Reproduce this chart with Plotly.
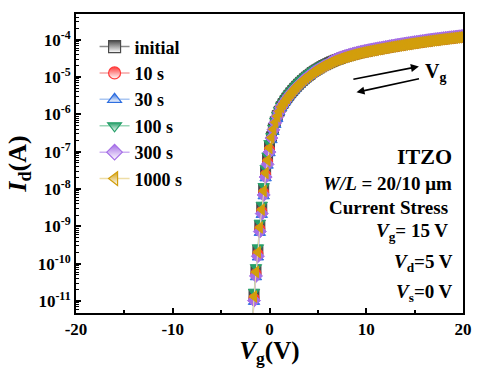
import plotly.graph_objects as go

# ---------------- data ----------------
Vg = [-2.0, -1.8, -1.6, -1.4, -1.2, -1.0, -0.8, -0.6, -0.4, -0.2,
      0.0, 0.2, 0.4, 0.6, 0.8, 1.0, 1.2, 1.4, 1.6, 1.8,
      2.0, 2.2, 2.4, 2.6, 2.8, 3.0, 3.2, 3.4, 3.6, 3.8,
      4.0, 4.2, 4.4, 4.6, 4.8, 5.0, 5.2, 5.4, 5.6, 5.8,
      6.0, 6.2, 6.4, 6.6, 6.8, 7.0, 7.2, 7.4, 7.6, 7.8,
      8.0, 8.2, 8.4, 8.6, 8.8, 9.0, 9.2, 9.4, 9.6, 9.8,
      10.0, 10.2, 10.4, 10.6, 10.8, 11.0, 11.2, 11.4, 11.6, 11.8,
      12.0, 12.2, 12.4, 12.6, 12.8, 13.0, 13.2, 13.4, 13.6, 13.8,
      14.0, 14.2, 14.4, 14.6, 14.8, 15.0, 15.2, 15.4, 15.6, 15.8,
      16.0, 16.2, 16.4, 16.6, 16.8, 17.0, 17.2, 17.4, 17.6, 17.8,
      18.0, 18.2, 18.4, 18.6, 18.8, 19.0, 19.2, 19.4, 19.6, 19.8,
      20.0]

Id_initial = [2.8e-13, 1.4e-12, 1.45e-11, 6.6e-11, 2.24e-10, 1.03e-9, 3.1e-9, 9.8e-9, 2.96e-8, 6.5e-8,
              1.39e-7, 2.52e-7, 4.18e-7, 6.48e-7, 9.36e-7, 1.22e-6, 1.61e-6, 1.95e-6, 2.34e-6, 2.77e-6,
              3.26e-6, 3.79e-6, 4.36e-6, 5.00e-6, 5.67e-6, 6.44e-6, 7.22e-6, 8.10e-6, 8.99e-6, 9.97e-6,
              1.09e-5, 1.19e-5, 1.32e-5, 1.43e-5, 1.54e-5, 1.65e-5, 1.77e-5, 1.90e-5, 2.04e-5, 2.15e-5,
              2.28e-5, 2.42e-5, 2.56e-5, 2.69e-5, 2.83e-5, 2.96e-5, 3.09e-5, 3.22e-5, 3.36e-5, 3.49e-5,
              3.62e-5, 3.74e-5, 3.88e-5, 4.01e-5, 4.14e-5, 4.26e-5, 4.40e-5, 4.53e-5, 4.65e-5, 4.77e-5,
              4.89e-5, 5.01e-5, 5.12e-5, 5.24e-5, 5.37e-5, 5.49e-5, 5.62e-5, 5.74e-5, 5.87e-5, 6.01e-5,
              6.13e-5, 6.26e-5, 6.41e-5, 6.54e-5, 6.68e-5, 6.81e-5, 6.96e-5, 7.09e-5, 7.24e-5, 7.37e-5,
              7.53e-5, 7.67e-5, 7.81e-5, 7.98e-5, 8.12e-5, 8.27e-5, 8.42e-5, 8.57e-5, 8.72e-5, 8.87e-5,
              9.03e-5, 9.18e-5, 9.33e-5, 9.50e-5, 9.65e-5, 9.81e-5, 9.96e-5, 1.012e-4, 1.027e-4, 1.043e-4,
              1.059e-4, 1.074e-4, 1.090e-4, 1.106e-4, 1.121e-4, 1.136e-4, 1.153e-4, 1.169e-4, 1.183e-4, 1.199e-4,
              1.214e-4]

Id_10s = [2.3e-13, 1.2e-12, 1.21e-11, 5.55e-11, 1.88e-10, 8.6e-10, 2.59e-9, 8.2e-9, 2.47e-8, 5.42e-8,
          1.16e-7, 2.36e-7, 3.93e-7, 6.10e-7, 8.82e-7, 1.19e-6, 1.56e-6, 1.89e-6, 2.27e-6, 2.69e-6,
          3.17e-6, 3.68e-6, 4.23e-6, 4.85e-6, 5.50e-6, 6.25e-6, 7.01e-6, 7.86e-6, 8.72e-6, 9.67e-6,
          1.06e-5, 1.16e-5, 1.28e-5, 1.39e-5, 1.49e-5, 1.60e-5, 1.72e-5, 1.84e-5, 1.98e-5, 2.09e-5,
          2.22e-5, 2.35e-5, 2.48e-5, 2.61e-5, 2.74e-5, 2.87e-5, 3.00e-5, 3.13e-5, 3.26e-5, 3.39e-5,
          3.51e-5, 3.63e-5, 3.76e-5, 3.89e-5, 4.02e-5, 4.14e-5, 4.27e-5, 4.40e-5, 4.51e-5, 4.63e-5,
          4.74e-5, 4.86e-5, 4.97e-5, 5.09e-5, 5.21e-5, 5.33e-5, 5.45e-5, 5.57e-5, 5.69e-5, 5.83e-5,
          5.95e-5, 6.08e-5, 6.22e-5, 6.35e-5, 6.48e-5, 6.61e-5, 6.75e-5, 6.88e-5, 7.03e-5, 7.16e-5,
          7.31e-5, 7.44e-5, 7.58e-5, 7.74e-5, 7.88e-5, 8.03e-5, 8.17e-5, 8.32e-5, 8.46e-5, 8.61e-5,
          8.76e-5, 8.91e-5, 9.06e-5, 9.22e-5, 9.37e-5, 9.52e-5, 9.66e-5, 9.82e-5, 9.97e-5, 1.013e-4,
          1.028e-4, 1.043e-4, 1.058e-4, 1.073e-4, 1.088e-4, 1.103e-4, 1.119e-4, 1.135e-4, 1.148e-4, 1.163e-4,
          1.178e-4]

Id_30s = [1.8e-13, 9.4e-13, 9.5e-12, 4.34e-11, 1.47e-10, 6.7e-10, 2.03e-9, 6.4e-9, 1.94e-8, 4.24e-8,
          9.1e-8, 2.04e-7, 3.38e-7, 5.24e-7, 7.57e-7, 1.14e-6, 1.50e-6, 1.81e-6, 2.18e-6, 2.58e-6,
          3.04e-6, 3.53e-6, 4.06e-6, 4.66e-6, 5.28e-6, 6.00e-6, 6.73e-6, 7.54e-6, 8.37e-6, 9.28e-6,
          1.02e-5, 1.11e-5, 1.23e-5, 1.33e-5, 1.43e-5, 1.54e-5, 1.65e-5, 1.77e-5, 1.90e-5, 2.00e-5,
          2.13e-5, 2.25e-5, 2.38e-5, 2.51e-5, 2.63e-5, 2.76e-5, 2.88e-5, 3.00e-5, 3.13e-5, 3.25e-5,
          3.37e-5, 3.49e-5, 3.61e-5, 3.73e-5, 3.86e-5, 3.97e-5, 4.09e-5, 4.22e-5, 4.33e-5, 4.45e-5,
          4.60e-5, 4.71e-5, 4.82e-5, 4.93e-5, 5.05e-5, 5.16e-5, 5.29e-5, 5.40e-5, 5.52e-5, 5.65e-5,
          5.77e-5, 5.89e-5, 6.03e-5, 6.15e-5, 6.29e-5, 6.41e-5, 6.55e-5, 6.67e-5, 6.82e-5, 6.94e-5,
          7.08e-5, 7.22e-5, 7.35e-5, 7.51e-5, 7.64e-5, 7.79e-5, 7.92e-5, 8.06e-5, 8.21e-5, 8.35e-5,
          8.50e-5, 8.64e-5, 8.78e-5, 8.94e-5, 9.08e-5, 9.24e-5, 9.37e-5, 9.52e-5, 9.67e-5, 9.82e-5,
          9.96e-5, 1.011e-4, 1.026e-4, 1.041e-4, 1.055e-4, 1.069e-4, 1.085e-4, 1.100e-4, 1.114e-4, 1.128e-4,
          1.142e-4]

Id_100s = [3.4e-13, 1.75e-12, 1.78e-11, 8.1e-11, 2.75e-10, 1.26e-9, 3.81e-9, 1.20e-8, 3.63e-8, 7.95e-8,
           1.70e-7, 2.62e-7, 4.34e-7, 6.73e-7, 9.71e-7, 1.31e-6, 1.72e-6, 2.08e-6, 2.50e-6, 2.96e-6,
           3.49e-6, 4.05e-6, 4.65e-6, 5.34e-6, 6.06e-6, 6.88e-6, 7.72e-6, 8.65e-6, 9.60e-6, 1.065e-5,
           1.17e-5, 1.28e-5, 1.41e-5, 1.53e-5, 1.65e-5, 1.77e-5, 1.90e-5, 2.03e-5, 2.18e-5, 2.30e-5,
           2.44e-5, 2.46e-5, 2.61e-5, 2.75e-5, 2.88e-5, 3.02e-5, 3.15e-5, 3.29e-5, 3.42e-5, 3.56e-5,
           3.69e-5, 3.82e-5, 3.95e-5, 4.09e-5, 4.22e-5, 4.35e-5, 4.48e-5, 4.62e-5, 4.74e-5, 4.87e-5,
           4.98e-5, 5.11e-5, 5.22e-5, 5.35e-5, 5.47e-5, 5.60e-5, 5.73e-5, 5.86e-5, 5.98e-5, 6.13e-5,
           6.25e-5, 6.39e-5, 6.53e-5, 6.67e-5, 6.81e-5, 6.95e-5, 7.09e-5, 7.23e-5, 7.38e-5, 7.52e-5,
           7.68e-5, 7.82e-5, 7.97e-5, 8.13e-5, 8.28e-5, 8.43e-5, 8.58e-5, 8.74e-5, 8.89e-5, 9.05e-5,
           9.20e-5, 9.36e-5, 9.52e-5, 9.68e-5, 9.84e-5, 1.000e-4, 1.015e-4, 1.032e-4, 1.047e-4, 1.064e-4,
           1.080e-4, 1.095e-4, 1.112e-4, 1.127e-4, 1.143e-4, 1.159e-4, 1.175e-4, 1.192e-4, 1.206e-4, 1.222e-4,
           1.238e-4]

Id_300s = [2.0e-13, 1.0e-12, 1.03e-11, 4.7e-11, 1.59e-10, 7.3e-10, 2.20e-9, 6.95e-9, 2.10e-8, 4.59e-8,
           9.8e-8, 2.33e-7, 3.86e-7, 5.98e-7, 8.64e-7, 1.16e-6, 1.53e-6, 1.85e-6, 2.22e-6, 2.64e-6,
           3.10e-6, 3.61e-6, 4.14e-6, 4.75e-6, 5.39e-6, 6.12e-6, 6.87e-6, 7.70e-6, 8.55e-6, 9.48e-6,
           1.04e-5, 1.13e-5, 1.25e-5, 1.36e-5, 1.46e-5, 1.57e-5, 1.69e-5, 1.80e-5, 1.94e-5, 2.05e-5,
           2.17e-5, 2.37e-5, 2.56e-5, 2.75e-5, 2.94e-5, 3.10e-5, 3.24e-5, 3.38e-5, 3.52e-5, 3.66e-5,
           3.80e-5, 3.93e-5, 4.07e-5, 4.21e-5, 4.34e-5, 4.47e-5, 4.61e-5, 4.75e-5, 4.88e-5, 5.01e-5,
           5.13e-5, 5.25e-5, 5.37e-5, 5.50e-5, 5.63e-5, 5.76e-5, 5.90e-5, 6.02e-5, 6.15e-5, 6.30e-5,
           6.43e-5, 6.57e-5, 6.72e-5, 6.86e-5, 7.01e-5, 7.15e-5, 7.30e-5, 7.44e-5, 7.60e-5, 7.74e-5,
           7.90e-5, 8.05e-5, 8.20e-5, 8.37e-5, 8.52e-5, 8.68e-5, 8.83e-5, 8.99e-5, 9.15e-5, 9.31e-5,
           9.47e-5, 9.63e-5, 9.79e-5, 9.96e-5, 1.012e-4, 1.029e-4, 1.044e-4, 1.061e-4, 1.077e-4, 1.095e-4,
           1.111e-4, 1.127e-4, 1.144e-4, 1.160e-4, 1.176e-4, 1.192e-4, 1.209e-4, 1.226e-4, 1.241e-4, 1.257e-4,
           1.273e-4]

Id_1000s = [2.5e-13, 1.3e-12, 1.32e-11, 6.03e-11, 2.04e-10, 9.33e-10, 2.82e-9, 8.91e-9, 2.69e-8, 5.89e-8,
            1.26e-7, 2.40e-7, 3.98e-7, 6.17e-7, 8.91e-7, 1.20e-6, 1.58e-6, 1.91e-6, 2.29e-6, 2.72e-6,
            3.20e-6, 3.72e-6, 4.27e-6, 4.90e-6, 5.56e-6, 6.31e-6, 7.08e-6, 7.94e-6, 8.81e-6, 9.77e-6,
            1.07e-5, 1.17e-5, 1.29e-5, 1.40e-5, 1.51e-5, 1.62e-5, 1.74e-5, 1.86e-5, 2.00e-5, 2.11e-5,
            2.24e-5, 2.37e-5, 2.51e-5, 2.64e-5, 2.77e-5, 2.90e-5, 3.03e-5, 3.16e-5, 3.29e-5, 3.42e-5,
            3.55e-5, 3.67e-5, 3.80e-5, 3.93e-5, 4.06e-5, 4.18e-5, 4.31e-5, 4.44e-5, 4.56e-5, 4.68e-5,
            4.79e-5, 4.91e-5, 5.02e-5, 5.14e-5, 5.26e-5, 5.38e-5, 5.51e-5, 5.63e-5, 5.75e-5, 5.89e-5,
            6.01e-5, 6.14e-5, 6.28e-5, 6.41e-5, 6.55e-5, 6.68e-5, 6.82e-5, 6.95e-5, 7.10e-5, 7.23e-5,
            7.38e-5, 7.52e-5, 7.66e-5, 7.82e-5, 7.96e-5, 8.11e-5, 8.25e-5, 8.40e-5, 8.55e-5, 8.70e-5,
            8.85e-5, 9.00e-5, 9.15e-5, 9.31e-5, 9.46e-5, 9.62e-5, 9.76e-5, 9.92e-5, 1.007e-4, 1.023e-4,
            1.038e-4, 1.053e-4, 1.069e-4, 1.084e-4, 1.099e-4, 1.114e-4, 1.130e-4, 1.146e-4, 1.160e-4, 1.175e-4,
            1.190e-4]

series_names = ["initial", "10 s", "30 s", "100 s", "300 s", "1000 s"]
series_values = [Id_initial, Id_10s, Id_30s, Id_100s, Id_300s, Id_1000s]
marker_symbols = ["square", "circle", "triangle-up", "triangle-down", "diamond", "triangle-left"]
marker_colors = ["#4A4A4A", "#FF3B3B", "#2F6FE0", "#27A06A", "#A56EE6", "#D29E0C"]
line_colors = ["#8A8A8A", "#F6A3A3", "#A9C6F2", "#9AD6B7", "#CDB0F2", "#EEDDA6"]

x_tickvals = [-20, -10, 0, 10, 20]
x_ticktext = ["-20", "-10", "0", "10", "20"]
x_minor = [-15, -5, 5, 15]
y_tickvals = [1e-11, 1e-10, 1e-9, 1e-8, 1e-7, 1e-6, 1e-5, 1e-4]
y_ticktext = ["10<sup>-11</sup>", "10<sup>-10</sup>", "10<sup>-9</sup>", "10<sup>-8</sup>",
              "10<sup>-7</sup>", "10<sup>-6</sup>", "10<sup>-5</sup>", "10<sup>-4</sup>"]
y_minor = [m * 10.0 ** e for e in range(-12, -3) for m in range(2, 10)]

FONT = "Liberation Serif"

fig = go.Figure()
# data traces (solid markers, drawn in order so that 1000 s lies on top)
for name, vals, sym, mc, lc in zip(series_names, series_values, marker_symbols,
                                   marker_colors, line_colors):
    fig.add_trace(go.Scatter(
        x=Vg, y=vals, name=name, mode="lines+markers", showlegend=False,
        line=dict(color=lc, width=1),
        marker=dict(symbol=sym, size=10, color=mc, line=dict(color=mc, width=1)),
    ))
# legend entries (half-filled look)
for name, sym, mc, lc in zip(series_names, marker_symbols, marker_colors, line_colors):
    fig.add_trace(go.Scatter(
        x=[None], y=[None], name=name, mode="lines+markers", showlegend=True,
        line=dict(color=lc, width=1.5),
        marker=dict(symbol=sym, size=12, color=mc, line=dict(color=mc, width=1.2),
                    gradient=dict(type="vertical", color="white")),
    ))

axis_common = dict(showline=True, linewidth=2, linecolor="black", mirror=True,
                   showgrid=False, zeroline=False, ticks="inside", ticklen=5,
                   tickwidth=1.5, tickcolor="black",
                   tickfont=dict(family=FONT, size=17, color="black", weight="bold"))

fig.update_xaxes(range=[-20, 20], tickmode="array", tickvals=x_tickvals, ticktext=x_ticktext,
                 minor=dict(tickmode="array", tickvals=x_minor, ticks="inside", ticklen=3,
                            tickwidth=1.5, tickcolor="black"),
                 title=dict(text="<i>V</i><sub>g</sub>(V)", standoff=0,
                            font=dict(family=FONT, size=25, color="black", weight="bold")),
                 **axis_common)
fig.update_yaxes(type="log", range=[-11.32, -3.31], tickmode="array", tickvals=y_tickvals,
                 ticktext=y_ticktext,
                 minor=dict(tickmode="array", tickvals=y_minor, ticks="inside", ticklen=2.5,
                            tickwidth=1, tickcolor="black"),
                 title=dict(text="<i>I</i><sub>d</sub>(A)", standoff=4,
                            font=dict(family=FONT, size=26, color="black", weight="bold")),
                 **axis_common)

texts = [
    ("ITZO", 0.977, 0.523, 22),
    ("<i>W/L</i> = 20/10 μm", 0.977, 0.434, 19),
    ("Current Stress", 0.967, 0.354, 19),
    ("<i>V</i><sub>g</sub>= 15 V", 0.967, 0.272, 19),
    ("<i>V</i><sub>d</sub>=5 V", 0.980, 0.166, 19),
    ("<i>V</i><sub>s</sub>=0 V", 0.980, 0.066, 19),
]
for t, x, y, s in texts:
    fig.add_annotation(text=t, x=x, y=y, xref="paper", yref="paper", xanchor="right",
                       yanchor="middle", showarrow=False,
                       font=dict(family=FONT, size=s, color="black", weight="bold"))

# sweep-direction arrows
fig.add_annotation(x=0.886, y=0.8245, xref="paper", yref="paper", ax=-67, ay=13,
                   text="", showarrow=True, arrowhead=2, arrowsize=1, arrowwidth=1.6,
                   arrowcolor="black")
fig.add_annotation(x=0.7247, y=0.738, xref="paper", yref="paper", ax=64, ay=-14,
                   text="", showarrow=True, arrowhead=2, arrowsize=1, arrowwidth=1.6,
                   arrowcolor="black")
fig.add_annotation(text="V<sub>g</sub>", x=0.929, y=0.805, xref="paper", yref="paper",
                   showarrow=False, xanchor="center", yanchor="middle",
                   font=dict(family=FONT, size=20, color="black", weight="bold"))

fig.update_layout(
    width=483, height=368,
    margin=dict(l=76, r=11, t=14, b=52),
    plot_bgcolor="white", paper_bgcolor="white",
    font=dict(family=FONT, size=17, color="black", weight="bold"),
    showlegend=True,
    legend=dict(x=0.048, y=0.952, xanchor="left", yanchor="top",
                bgcolor="rgba(0,0,0,0)", borderwidth=0,
                font=dict(family=FONT, size=18, color="black", weight="bold"),
                itemwidth=30, tracegroupgap=0),
)

fig.write_html("out.html", config={"displayModeBar": False},
               post_script="document.body.style.margin='0';document.body.style.overflow='hidden';")
